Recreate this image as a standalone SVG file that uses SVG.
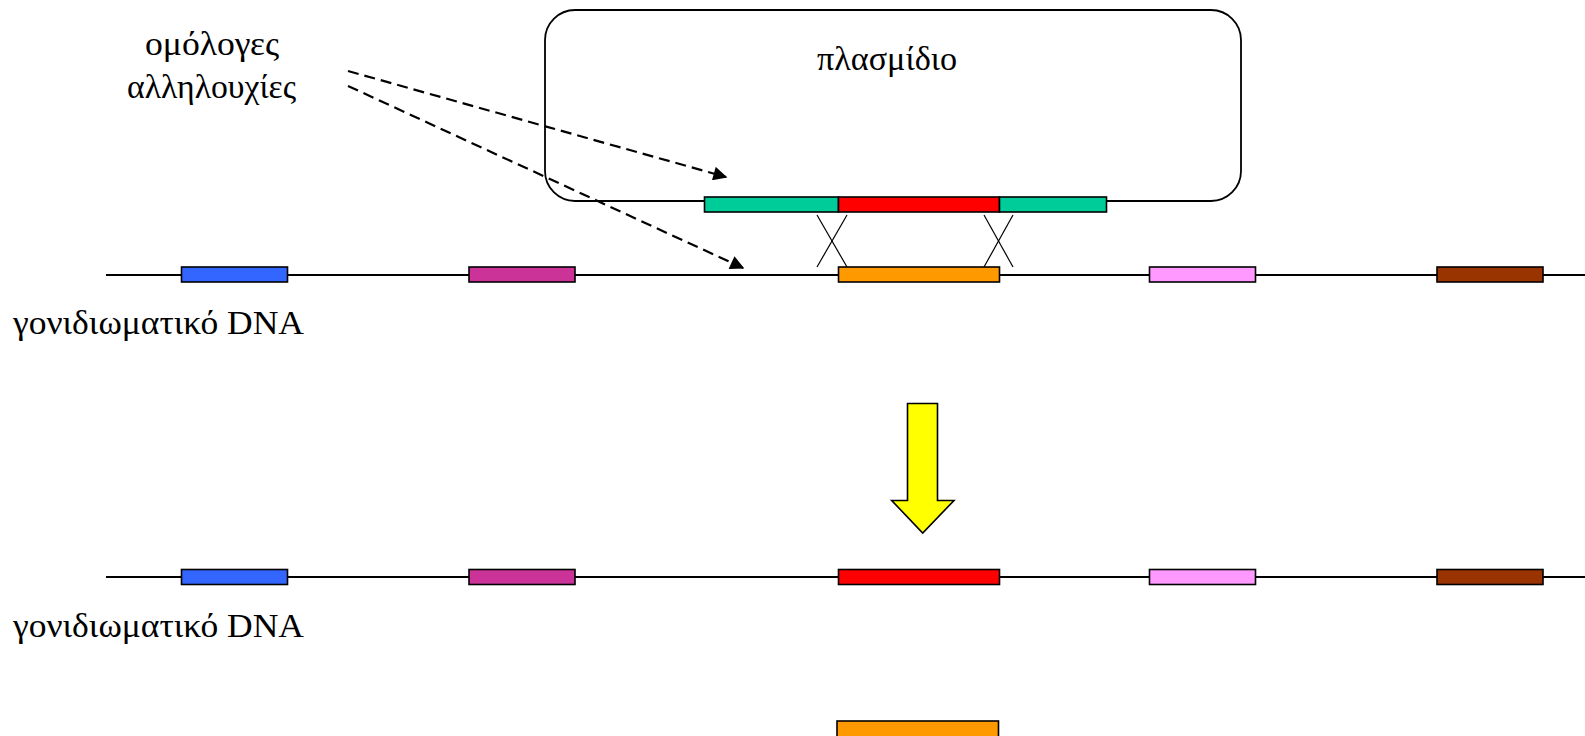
<svg xmlns="http://www.w3.org/2000/svg" width="1585" height="736" viewBox="0 0 1585 736">
<style>
  text { font-family: "Liberation Serif", "DejaVu Serif", serif; font-size: 34px; fill: #000; }
  .dna { stroke: #000; stroke-width: 1.8; fill: none; }
  .gene { stroke: #000; stroke-width: 1.6; }
  .cross { stroke: #000; stroke-width: 1.2; fill: none; }
  .dash { stroke: #000; stroke-width: 2.2; stroke-dasharray: 11 6; fill: none; }
</style>
<defs>
  <marker id="ah2" viewBox="0 0 10 10" refX="9" refY="5" markerWidth="18" markerHeight="14" markerUnits="userSpaceOnUse" orient="auto">
    <path d="M0,0 L10,5 L0,10 Z" fill="#000"/>
  </marker>
</defs>

<g id="plasmid">
  <rect x="545" y="10" width="696" height="191" rx="30" ry="30" fill="none" stroke="#000" stroke-width="1.8"/>
  <text x="817" y="70" textLength="140" lengthAdjust="spacingAndGlyphs">πλασμίδιο</text>
</g>

<g id="plasmid-insert">
  <rect class="gene" x="704.5" y="197" width="134" height="15" fill="#00CC99"/>
  <rect class="gene" x="838.5" y="197" width="161" height="15" fill="#FF0000"/>
  <rect class="gene" x="999.5" y="197" width="107" height="15" fill="#00CC99"/>
</g>

<g id="label-homologous">
  <text x="145" y="55" textLength="134" lengthAdjust="spacingAndGlyphs">ομόλογες</text>
  <text x="127" y="98" textLength="169" lengthAdjust="spacingAndGlyphs">αλληλουχίες</text>
</g>

<g id="genome-1">
  <line class="dna" x1="106" y1="275" x2="1585" y2="275"/>
  <rect class="gene" x="181.5" y="267" width="106" height="15" fill="#3366FF"/>
  <rect class="gene" x="469" y="267" width="106" height="15" fill="#CC3399"/>
  <rect class="gene" x="838.5" y="267" width="161" height="15" fill="#FF9900"/>
  <rect class="gene" x="1149.5" y="267" width="106" height="15" fill="#FF99FF"/>
  <rect class="gene" x="1437" y="267" width="106" height="15" fill="#993300"/>
  <text x="13" y="334" textLength="291" lengthAdjust="spacingAndGlyphs">γονιδιωματικό DNA</text>
</g>

<g id="crossovers">
  <line class="cross" x1="817" y1="215" x2="847" y2="267"/>
  <line class="cross" x1="847" y1="215" x2="817" y2="267"/>
  <line class="cross" x1="984" y1="215" x2="1013" y2="267"/>
  <line class="cross" x1="1013" y1="215" x2="984" y2="267"/>
</g>

<g id="connectors">
  <line class="dash" x1="348" y1="71" x2="726" y2="177" marker-end="url(#ah2)"/>
  <line class="dash" x1="348" y1="86" x2="743" y2="268" marker-end="url(#ah2)"/>
</g>

<g id="yellow-arrow">
  <path d="M907.5,403.5 L937.5,403.5 L937.5,500.5 L954,500.5 L922.7,533 L891.7,500.5 L907.5,500.5 Z" fill="#FFFF00" stroke="#000" stroke-width="1.6" stroke-linejoin="miter"/>
</g>

<g id="genome-2">
  <line class="dna" x1="106" y1="577" x2="1585" y2="577"/>
  <rect class="gene" x="181.5" y="569.5" width="106" height="15" fill="#3366FF"/>
  <rect class="gene" x="469" y="569.5" width="106" height="15" fill="#CC3399"/>
  <rect class="gene" x="838.5" y="569.5" width="161" height="15" fill="#FF0000"/>
  <rect class="gene" x="1149.5" y="569.5" width="106" height="15" fill="#FF99FF"/>
  <rect class="gene" x="1437" y="569.5" width="106" height="15" fill="#993300"/>
  <text x="13" y="637" textLength="291" lengthAdjust="spacingAndGlyphs">γονιδιωματικό DNA</text>
</g>

<g id="excised-gene">
  <rect class="gene" x="837" y="721" width="161.5" height="18" fill="#FF9900"/>
</g>
</svg>
